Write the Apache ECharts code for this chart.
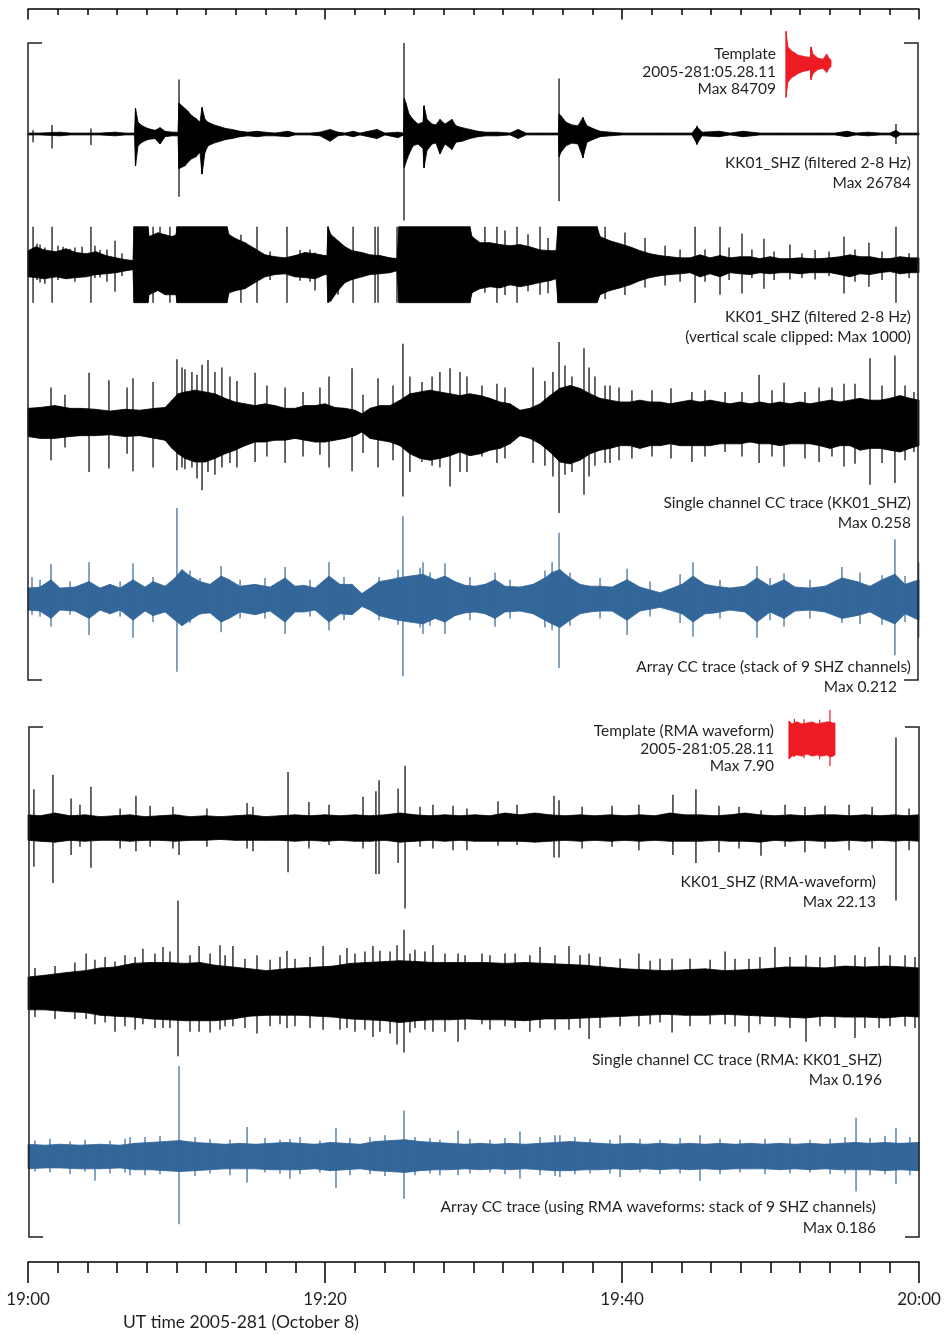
<!DOCTYPE html>
<html><head><meta charset="utf-8">
<script src="https://cdn.jsdelivr.net/npm/echarts@6/dist/echarts.min.js"></script>
<style>html,body{margin:0;padding:0;background:#fff}#c{width:944px;height:1335px}</style>
</head><body><div id="c"></div>
<script>
// ---- time axis (minutes after 19:00) ----
const tickLabels = ['19:00', '19:20', '19:40', '20:00'];
const axisTitle = 'UT time 2005-281 (October 8)';

// ---- text labels ----
const template1Text = ['Template', '2005-281:05.28.11', 'Max 84709'];
const trace1Text = ['KK01_SHZ (filtered 2-8 Hz)', 'Max 26784'];
const trace2Text = ['KK01_SHZ (filtered 2-8 Hz)', '(vertical scale clipped: Max 1000)'];
const trace3Text = ['Single channel CC trace (KK01_SHZ)', 'Max 0.258'];
const trace4Text = ['Array CC trace (stack of 9 SHZ channels)', 'Max 0.212'];
const template2Text = ['Template (RMA waveform)', '2005-281:05.28.11', 'Max 7.90'];
const trace5Text = ['KK01_SHZ (RMA-waveform)', 'Max 22.13'];
const trace6Text = ['Single channel CC trace (RMA: KK01_SHZ)', 'Max 0.196'];
const trace7Text = ['Array CC trace (using RMA waveforms: stack of 9 SHZ channels)', 'Max 0.186'];

// ---- traces: envelope rows [minute, upper %, lower %] (percent of trace max); spikes [minute, upper %, lower %] ----
const trace1Env = [[0.00,1,-1],[0.81,1,-1],[2.15,2,-2],[2.83,1,-1],[3.50,1,-1],[4.85,1,-1],[5.86,2,-2],[6.53,1,-1],[7.17,1,-1],[7.24,28,-35],[7.41,13,-13],[7.68,9,-9],[8.08,6,-6],[8.55,4,-5],[8.89,7,-11],[9.23,3,-3],[9.70,2,-2],[10.10,2,-2],[10.17,34,-38],[10.57,28,-35],[10.77,25,-31],[11.04,20,-27],[11.31,17,-25],[11.58,13,-20],[11.72,29,-44],[11.92,16,-20],[12.12,13,-13],[12.53,10,-10],[12.93,8,-8],[13.33,6,-6],[13.74,5,-5],[14.28,3,-3],[14.81,2,-2],[15.42,3,-3],[15.96,2,-2],[16.63,1,-2],[17.51,3,-3],[17.98,1,-1],[18.99,1,-1],[19.66,2,-2],[20.34,5,-8],[20.88,2,-2],[21.35,1,-1],[21.89,3,-3],[22.36,1,-1],[23.50,5,-5],[24.04,1,-1],[24.92,2,-4],[25.29,1,-1],[25.34,39,-37],[25.45,34,-31],[25.66,22,-22],[25.93,16,-13],[26.26,11,-11],[26.60,13,-16],[26.67,31,-37],[26.87,16,-18],[27.21,11,-11],[27.47,10,-10],[27.74,16,-22],[28.08,11,-11],[28.55,16,-17],[28.82,9,-9],[29.23,7,-8],[29.76,5,-5],[30.30,3,-3],[30.84,2,-2],[31.65,2,-2],[32.46,1,-1],[33.00,5,-5],[33.54,1,-1],[34.48,1,-1],[35.29,1,-1],[35.72,1,-1],[35.77,22,-25],[35.89,20,-20],[36.23,13,-13],[36.63,10,-10],[37.04,9,-11],[37.37,18,-26],[37.64,9,-9],[38.05,6,-6],[38.52,3,-3],[39.19,2,-2],[40.00,1,-1],[41.21,1,-1],[42.56,1,-1],[43.91,1,-1],[44.71,1,-1],[45.05,8,-11],[45.39,2,-2],[46.53,3,-3],[47.27,1,-1],[48.15,3,-3],[49.29,1,-1],[50.64,1,-1],[51.99,1,-1],[53.33,1,-1],[54.34,1,-1],[55.15,3,-3],[55.76,1,-1],[56.57,2,-2],[57.37,1,-1],[58.05,1,-1],[58.45,4,-4],[58.72,1,-1],[60.00,1,-1]];
const trace1Spikes = [[0.34,4,-9],[1.62,10,-16],[4.24,6,-12],[7.24,28,-35],[10.17,60,-69],[11.72,29,-44],[25.32,100,-95],[26.67,31,-37],[35.76,61,-74],[37.37,18,-26],[45.05,9,-12],[58.45,11,-11]];

const trace2Env = [[0.00,37,-32],[0.54,47,-34],[1.08,39,-37],[1.89,34,-32],[2.56,42,-37],[3.23,32,-34],[3.91,29,-32],[4.58,34,-26],[5.25,24,-24],[5.93,18,-21],[6.60,13,-16],[7.07,11,-13],[7.14,100,-100],[8.08,100,-100],[8.15,74,-79],[8.75,84,-68],[9.23,79,-79],[9.70,74,-79],[9.97,79,-79],[10.03,100,-100],[13.40,100,-100],[13.54,79,-74],[14.01,68,-68],[14.61,58,-63],[15.29,42,-47],[15.96,26,-32],[16.63,21,-26],[17.31,18,-24],[17.98,24,-32],[18.65,32,-34],[19.33,29,-37],[20.00,24,-26],[20.13,24,-26],[20.20,100,-100],[20.40,79,-95],[20.88,63,-68],[21.35,47,-47],[21.82,37,-39],[22.49,32,-32],[23.03,26,-26],[23.70,24,-24],[24.38,18,-21],[24.85,16,-16],[24.98,100,-100],[29.76,100,-100],[29.90,74,-74],[30.44,58,-63],[31.11,58,-58],[31.78,53,-61],[32.46,50,-53],[33.13,53,-58],[33.80,47,-53],[34.48,39,-47],[35.15,37,-42],[35.56,37,-37],[35.69,100,-100],[38.32,100,-100],[38.52,74,-79],[39.19,63,-68],[39.87,55,-61],[40.54,47,-53],[41.21,37,-42],[41.89,29,-34],[42.56,24,-29],[43.23,21,-26],[43.91,18,-24],[44.58,18,-21],[45.25,26,-32],[45.93,18,-24],[46.60,24,-32],[47.27,18,-21],[47.95,21,-24],[48.62,21,-26],[49.29,16,-21],[49.97,21,-24],[50.64,16,-21],[51.31,16,-21],[51.99,18,-24],[52.66,16,-21],[53.33,16,-21],[54.01,18,-21],[54.68,21,-26],[55.35,26,-32],[56.03,21,-24],[56.70,21,-26],[57.37,16,-21],[58.05,16,-18],[58.72,21,-24],[59.39,18,-21],[60.00,18,-21]];
const trace2Spikes = [[0.34,100,-100],[0.61,55,-40],[0.81,53,-47],[1.14,45,-50],[1.62,100,-100],[2.02,50,-40],[2.36,47,-26],[2.83,42,-26],[3.16,45,-45],[3.64,47,-26],[4.24,100,-100],[4.51,50,-35],[4.85,39,-34],[5.32,40,-45],[5.86,63,-71],[6.33,30,-30],[8.42,100,-100],[8.89,100,-53],[9.56,100,-100],[14.34,79,-100],[15.42,100,-100],[16.30,35,-40],[17.44,100,-100],[18.32,39,-42],[18.99,40,-45],[19.33,32,-68],[20.88,53,-79],[21.89,100,-100],[23.37,100,-100],[23.57,100,-100],[24.85,100,-100],[30.77,100,-74],[31.58,100,-100],[32.12,90,-80],[32.93,100,-100],[33.67,80,-70],[34.48,100,-79],[35.02,70,-75],[38.86,100,-90],[40.20,85,-80],[41.55,70,-60],[42.90,50,-55],[43.91,40,-45],[44.92,100,-100],[45.59,40,-45],[46.60,100,-79],[47.21,45,-40],[48.08,82,-76],[48.75,40,-35],[49.56,68,-63],[50.24,35,-40],[51.31,53,-39],[52.12,30,-35],[53.00,39,-39],[53.94,35,-30],[54.95,74,-76],[55.69,40,-45],[56.63,58,-58],[57.51,35,-40],[58.45,100,-100],[59.33,30,-35]];

const trace3Env = [[0.00,15,-16],[0.81,16,-18],[1.82,18,-18],[2.83,15,-16],[3.50,15,-15],[4.51,14,-15],[5.52,12,-14],[6.53,14,-16],[7.54,13,-15],[8.55,15,-18],[9.23,16,-20],[9.70,24,-29],[10.10,31,-35],[10.57,33,-40],[11.25,35,-44],[11.92,33,-44],[12.59,31,-40],[13.27,26,-35],[13.94,22,-31],[14.61,20,-26],[15.29,18,-22],[15.96,20,-22],[16.63,18,-20],[17.31,15,-20],[17.98,15,-18],[18.65,18,-20],[19.33,18,-22],[20.00,20,-22],[20.67,16,-20],[21.35,15,-18],[22.02,13,-15],[22.49,9,-11],[23.03,15,-18],[23.70,18,-20],[24.38,18,-22],[25.05,24,-26],[25.72,31,-35],[26.40,33,-40],[27.07,35,-42],[27.74,33,-40],[28.42,31,-37],[29.09,29,-33],[29.76,31,-37],[30.44,29,-35],[31.11,26,-31],[31.78,22,-29],[32.46,20,-24],[33.13,13,-15],[33.80,15,-18],[34.48,20,-24],[35.15,29,-33],[35.82,37,-44],[36.50,40,-46],[37.17,37,-42],[37.85,31,-35],[38.52,26,-31],[39.19,24,-29],[39.87,22,-26],[40.54,22,-26],[41.21,24,-29],[41.89,22,-26],[42.56,22,-26],[43.23,20,-24],[43.91,22,-26],[44.58,24,-26],[45.25,22,-26],[45.93,24,-26],[46.60,22,-24],[47.27,20,-24],[47.95,22,-24],[48.62,20,-22],[49.29,22,-24],[49.97,20,-24],[50.64,22,-26],[51.31,20,-24],[51.99,22,-24],[52.66,20,-24],[53.33,22,-26],[54.01,24,-29],[54.68,22,-26],[55.35,24,-26],[56.03,26,-31],[56.70,24,-29],[57.37,24,-29],[58.05,26,-31],[58.72,29,-33],[59.39,26,-29],[60.00,24,-26]];
const trace3Spikes = [[1.55,38,-42],[2.49,30,-28],[4.11,54,-55],[5.45,46,-51],[6.67,38,-35],[7.07,48,-54],[8.42,44,-50],[10.03,69,-53],[10.37,60,-50],[10.57,58,-52],[11.04,55,-50],[11.38,52,-62],[11.72,63,-75],[12.12,68,-55],[12.59,55,-58],[13.06,60,-50],[13.60,50,-45],[14.07,45,-50],[15.29,54,-44],[16.09,40,-38],[17.31,38,-45],[18.52,33,-38],[19.66,38,-36],[20.27,50,-50],[21.82,59,-54],[22.56,30,-34],[23.57,48,-50],[24.58,40,-42],[25.25,86,-82],[25.72,50,-55],[26.53,44,-44],[27.21,50,-48],[27.74,55,-50],[28.42,59,-71],[29.09,55,-55],[29.56,50,-55],[30.57,40,-38],[31.58,42,-45],[32.12,38,-40],[34.01,60,-45],[34.81,45,-48],[35.35,55,-60],[35.76,88,-100],[36.16,62,-58],[36.63,50,-55],[37.44,81,-80],[37.78,60,-60],[38.18,50,-48],[38.86,40,-45],[39.19,40,-45],[39.80,38,-42],[40.67,35,-40],[42.02,35,-38],[43.30,37,-40],[44.71,33,-44],[45.59,35,-38],[46.94,33,-33],[48.08,33,-38],[49.23,52,-45],[50.10,35,-38],[50.91,43,-49],[52.32,33,-40],[53.27,38,-44],[54.14,38,-38],[54.95,42,-49],[55.69,42,-46],[56.70,70,-69],[57.51,40,-45],[58.38,73,-67],[59.06,40,-42],[59.66,33,-33]];

const trace4Env = [[0.00,13,-11],[0.81,14,-12],[1.55,22,-20],[2.15,13,-11],[3.16,14,-12],[4.11,20,-20],[4.85,13,-11],[5.52,17,-15],[6.20,13,-11],[7.07,22,-22],[7.88,14,-12],[8.42,20,-17],[9.23,15,-13],[9.90,24,-22],[10.37,33,-28],[10.91,26,-22],[11.58,20,-15],[12.26,17,-14],[13.00,26,-24],[13.54,22,-20],[14.28,15,-13],[15.29,17,-16],[16.30,14,-12],[17.31,24,-24],[17.98,15,-13],[18.59,16,-13],[19.33,13,-11],[20.27,26,-24],[21.01,17,-15],[21.82,17,-16],[22.49,7,-7],[23.03,13,-11],[23.64,20,-17],[24.38,22,-20],[24.92,24,-22],[25.72,26,-24],[26.60,28,-26],[27.41,22,-20],[28.08,26,-24],[28.75,20,-17],[29.43,16,-14],[30.10,15,-13],[30.77,17,-15],[31.45,22,-20],[32.12,15,-13],[33.13,14,-12],[34.01,17,-15],[34.81,24,-22],[35.29,30,-26],[35.82,33,-30],[36.50,24,-22],[37.17,17,-15],[37.85,15,-13],[38.52,15,-12],[39.33,14,-12],[40.34,22,-22],[41.21,14,-12],[41.89,11,-10],[42.56,8,-8],[43.23,12,-11],[44.04,17,-15],[44.78,26,-24],[45.59,17,-15],[46.26,15,-14],[47.27,13,-11],[48.28,15,-13],[49.09,24,-24],[49.97,15,-13],[50.91,22,-20],[51.65,14,-12],[52.66,13,-11],[53.67,15,-13],[54.81,24,-20],[55.82,20,-17],[56.70,15,-13],[57.51,22,-20],[58.38,28,-26],[59.06,17,-15],[60.00,22,-22]];
const trace4Spikes = [[0.27,25,-16],[0.81,22,-18],[1.55,39,-29],[2.83,20,-16],[4.11,41,-38],[6.20,20,-18],[7.07,40,-41],[8.42,25,-24],[10.03,100,-78],[10.91,32,-25],[11.58,24,-16],[13.00,37,-35],[14.28,22,-20],[15.96,24,-20],[17.31,36,-37],[18.99,22,-18],[20.27,41,-33],[21.28,25,-22],[23.64,25,-22],[24.92,33,-27],[25.25,91,-83],[26.40,35,-30],[26.60,41,-37],[27.07,30,-28],[28.08,40,-37],[29.76,25,-22],[31.45,30,-29],[32.46,22,-20],[34.81,32,-30],[35.29,41,-33],[35.76,73,-74],[36.50,30,-28],[38.52,24,-20],[40.34,34,-38],[41.89,20,-18],[43.91,28,-25],[44.78,41,-40],[46.60,22,-20],[49.09,37,-41],[49.97,24,-22],[50.91,29,-29],[52.66,22,-20],[54.81,36,-25],[56.03,30,-26],[57.51,27,-27],[58.38,66,-60],[59.06,26,-24],[59.98,41,-41]];

const trace5Env = [[0,15,-13],[0.81,14,-14],[1.82,17,-15],[2.83,14,-13],[3.84,15,-14],[4.85,13,-13],[5.86,14,-13],[6.87,15,-14],[7.88,13,-13],[8.89,14,-13],[9.90,15,-14],[10.91,13,-13],[11.92,14,-13],[12.93,13,-12],[13.94,14,-13],[14.95,15,-13],[15.96,13,-13],[16.97,14,-13],[17.98,15,-14],[18.99,14,-13],[20.00,15,-14],[21.01,14,-13],[22.02,15,-14],[23.03,14,-14],[24.04,15,-13],[25.05,17,-15],[26.06,15,-14],[27.07,14,-13],[28.08,15,-14],[29.09,14,-13],[30.10,15,-14],[31.11,14,-14],[32.12,17,-14],[33.13,15,-14],[34.14,17,-15],[35.15,15,-14],[36.16,14,-13],[37.17,15,-14],[38.18,14,-13],[39.19,15,-14],[40.20,14,-13],[41.21,15,-14],[42.22,14,-13],[43.23,17,-14],[44.24,15,-14],[45.25,15,-14],[46.26,14,-13],[47.27,15,-14],[48.28,17,-14],[49.29,15,-15],[50.30,14,-13],[51.31,15,-14],[52.32,14,-13],[53.33,15,-14],[54.34,15,-14],[55.35,14,-13],[56.36,15,-14],[57.37,14,-13],[58.38,15,-14],[59.06,14,-13],[60,15,-14]];
const trace5Spikes = [[0.40,43,-42],[1.68,59,-60],[2.90,33,-29],[3.50,26,-20],[4.24,46,-43],[6.20,22,-22],[7.27,36,-25],[8.22,25,-20],[9.76,24,-22],[10.17,15,-29],[12.05,22,-20],[14.75,28,-22],[15.15,24,-25],[17.51,62,-48],[18.92,29,-22],[20.27,26,-18],[22.56,35,-22],[23.43,41,-50],[23.64,53,-50],[24.92,44,-38],[25.39,69,-88],[26.40,24,-20],[27.27,26,-22],[28.62,25,-24],[29.56,22,-24],[31.65,30,-19],[32.93,26,-18],[35.42,36,-32],[35.76,31,-32],[37.31,24,-22],[39.33,25,-20],[41.14,26,-24],[43.43,37,-29],[44.98,43,-38],[46.53,25,-26],[47.88,24,-22],[49.36,20,-30],[50.98,26,-20],[52.32,24,-26],[53.67,25,-22],[55.29,26,-24],[56.84,24,-22],[58.45,100,-79],[59.33,22,-24]];

const trace6Env = [[0,16,-20],[1.14,18,-20],[2.63,21,-22],[3.84,23,-23],[4.85,26,-26],[5.86,27,-27],[7.07,31,-28],[8.22,32,-30],[9.36,32,-31],[10.57,31,-32],[11.58,32,-32],[12.59,29,-32],[13.80,27,-30],[14.95,25,-27],[16.09,23,-26],[17.31,25,-26],[18.32,26,-26],[19.46,27,-27],[20.54,28,-28],[21.68,31,-30],[22.83,32,-31],[24.04,33,-32],[25.05,34,-34],[26.20,33,-32],[27.27,32,-31],[28.42,32,-31],[29.56,32,-30],[30.77,32,-31],[32.12,31,-31],[33.47,32,-32],[34.81,31,-30],[36.16,30,-30],[37.51,29,-29],[38.86,27,-28],[40.20,25,-27],[41.55,24,-26],[42.90,23,-25],[44.24,24,-26],[45.59,25,-26],[46.94,23,-25],[48.28,24,-26],[49.63,25,-27],[50.98,27,-28],[52.32,27,-29],[53.67,26,-27],[55.02,28,-28],[56.36,27,-28],[57.71,28,-29],[59.06,27,-27],[60,26,-28]];
const trace6Spikes = [[0.47,26,-28],[1.82,28,-30],[3.16,32,-30],[3.91,42,-30],[4.51,35,-36],[5.19,38,-34],[5.86,33,-44],[6.53,40,-38],[7.21,38,-42],[7.74,47,-36],[8.55,42,-40],[9.09,49,-40],[9.56,44,-40],[10.10,100,-71],[10.91,40,-44],[11.52,50,-44],[12.26,42,-45],[12.93,51,-42],[13.27,40,-38],[13.80,50,-38],[14.61,36,-40],[15.42,40,-46],[16.30,35,-38],[16.97,38,-36],[17.44,45,-40],[17.98,36,-38],[18.99,38,-40],[19.87,50,-42],[21.01,40,-42],[21.48,48,-40],[22.02,42,-44],[22.69,44,-42],[23.23,50,-50],[23.70,45,-44],[24.38,44,-46],[24.85,51,-58],[25.32,68,-67],[25.72,42,-45],[26.06,46,-40],[26.73,44,-42],[27.27,51,-44],[28.08,42,-44],[28.96,42,-55],[29.43,40,-42],[30.57,42,-36],[31.11,40,-42],[32.12,42,-38],[32.80,42,-40],[33.80,40,-44],[34.48,49,-40],[35.49,40,-42],[36.43,50,-42],[37.17,40,-40],[37.78,42,-52],[38.52,38,-40],[39.87,36,-38],[41.14,42,-38],[41.89,34,-36],[42.56,36,-34],[43.37,36,-45],[44.58,36,-38],[45.93,35,-36],[46.94,44,-36],[47.61,36,-38],[48.55,36,-45],[49.29,38,-36],[50.30,49,-38],[51.31,38,-40],[52.39,40,-55],[53.33,38,-38],[54.34,40,-40],[55.69,40,-51],[56.36,38,-40],[57.31,49,-40],[58.05,40,-38],[59.06,40,-38],[59.73,38,-40]];

const trace7Env = [[0,14,-13],[1.14,13,-12],[2.15,14,-12],[3.50,13,-13],[4.85,14,-13],[6.20,13,-12],[7.21,15,-14],[8.22,16,-14],[9.23,17,-15],[10.24,18,-16],[11.25,16,-15],[12.26,15,-14],[13.27,14,-13],[14.28,15,-13],[15.29,14,-13],[16.30,15,-14],[17.31,16,-14],[18.32,15,-14],[19.33,14,-13],[20.34,16,-15],[21.35,15,-14],[22.36,14,-13],[23.37,17,-15],[24.38,18,-16],[25.39,19,-17],[26.40,17,-15],[27.41,16,-14],[28.42,15,-14],[29.43,14,-13],[30.44,15,-14],[31.45,14,-13],[32.46,15,-14],[33.47,14,-13],[34.48,15,-14],[35.49,16,-15],[36.50,17,-15],[37.51,16,-14],[38.52,15,-14],[39.53,14,-13],[40.54,15,-14],[41.55,14,-13],[42.56,15,-14],[43.57,14,-13],[44.58,15,-14],[45.59,14,-13],[46.60,15,-14],[47.61,14,-13],[48.62,15,-13],[49.63,14,-13],[50.64,15,-14],[51.65,14,-13],[52.66,15,-14],[53.67,14,-13],[54.68,15,-14],[55.69,16,-14],[56.70,15,-14],[57.71,16,-15],[58.72,15,-14],[60,16,-15]];
const trace7Spikes = [[0.47,18,-16],[1.48,20,-17],[2.83,17,-19],[3.84,19,-16],[4.51,13,-26],[5.52,18,-18],[6.53,20,-17],[6.87,22,-20],[7.88,22,-20],[8.89,23,-19],[10.17,100,-74],[11.25,22,-21],[12.26,20,-18],[13.60,19,-20],[14.75,33,-28],[15.96,21,-17],[16.97,19,-18],[17.64,20,-24],[18.32,22,-19],[19.66,18,-17],[20.74,32,-34],[21.68,21,-20],[23.03,22,-19],[24.04,24,-21],[25.32,51,-46],[26.06,22,-20],[27.07,21,-18],[27.74,19,-20],[28.96,29,-20],[29.76,20,-18],[31.11,19,-17],[32.12,21,-19],[33.13,28,-24],[34.48,22,-20],[35.49,24,-21],[35.82,24,-22],[36.83,22,-19],[37.85,20,-18],[39.19,19,-18],[39.87,24,-22],[41.21,20,-17],[42.56,19,-19],[43.91,21,-18],[45.25,24,-26],[46.60,20,-19],[47.95,19,-17],[49.63,20,-19],[51.31,21,-18],[52.66,19,-17],[54.01,20,-19],[55.02,22,-18],[55.76,43,-38],[56.70,21,-20],[57.71,23,-19],[58.45,32,-30],[59.39,22,-20]];

// ---- templates: rows [seconds, upper %, lower %] ----
const template1Env = [[0,94,-100],[1.3,48,-55],[3.8,36,-42],[6.0,30,-36],[8.0,24,-30],[11.3,21,-24],[14.7,18,-21],[16.3,18,-18],[16.7,48,-48],[18.0,27,-30],[21.3,15,-18],[24.7,12,-15],[27.1,27,-27],[28.7,15,-15],[30,9,-9]];
const template1Spikes = [[0.1,94,-100],[16.7,48,-48]];
const template2Env = [[0,62,-69],[1.96,52,-59],[5.2,59,-55],[8.5,52,-59],[11.7,55,-52],[15.0,59,-59],[18.3,52,-55],[21.5,55,-59],[24.8,59,-55],[26.7,59,-62],[28.7,55,-59],[30,55,-55]];
const template2Spikes = [[0.2,62,-69],[3.5,70,-62],[9.8,68,-66],[20.0,66,-70],[26.7,100,-93]];

// ---- styling / layout ----
const BLACK = '#000000', BLUE = '#336699', RED = '#ed1c24', TXT = '#231f20';
const FONT = 'Lato, "Open Sans", sans-serif';

const panels = [
  {env: trace1Env, spikes: trace1Spikes, color: BLACK, left: 28, width: 891, top: 43, height: 182, xmax: 60},
  {env: trace2Env, spikes: trace2Spikes, color: BLACK, left: 28, width: 891, top: 226.7, height: 76, xmax: 60},
  {env: trace3Env, spikes: trace3Spikes, color: BLACK, left: 28, width: 891, top: 331, height: 182, xmax: 60},
  {env: trace4Env, spikes: trace4Spikes, color: BLUE, left: 28, width: 891, top: 508, height: 184, xmax: 60},
  {env: trace5Env, spikes: trace5Spikes, color: BLACK, left: 28, width: 891, top: 737.5, height: 182, xmax: 60},
  {env: trace6Env, spikes: trace6Spikes, color: BLACK, left: 28, width: 891, top: 900.6, height: 182, xmax: 60},
  {env: trace7Env, spikes: trace7Spikes, color: BLUE, left: 28, width: 891, top: 1066, height: 182, xmax: 60},
  {env: template1Env, spikes: template1Spikes, color: RED, left: 786, width: 45, top: 29.3, height: 68, xmax: 30},
  {env: template2Env, spikes: template2Spikes, color: RED, left: 789, width: 46, top: 710, height: 58, xmax: 30}
];

const grids = [{left: 28, right: 25, top: 9, height: 1253}];
const xAxes = [
  {gridIndex: 0, type: 'value', min: 0, max: 60, interval: 20, position: 'bottom',
   axisLine: {show: true, onZero: false, lineStyle: {color: '#000', width: 1.5}},
   axisTick: {show: true, length: 21, lineStyle: {color: '#000', width: 1.5}},
   minorTick: {show: true, splitNumber: 10, length: 11, lineStyle: {color: '#000', width: 1.5}},
   axisLabel: {formatter: v => tickLabels[Math.round(v / 20)], fontSize: 17, fontFamily: FONT, color: TXT, margin: 29},
   splitLine: {show: false}, minorSplitLine: {show: false}},
  {gridIndex: 0, type: 'value', min: 0, max: 60, interval: 20, position: 'top',
   axisLine: {show: true, onZero: false, lineStyle: {color: '#000', width: 1.5}},
   axisTick: {show: true, inside: true, length: 10.5, lineStyle: {color: '#000', width: 1.5}},
   minorTick: {show: true, splitNumber: 10, length: 6, lineStyle: {color: '#000', width: 1.5}},
   axisLabel: {show: false}, splitLine: {show: false}, minorSplitLine: {show: false}}
];
const yAxes = [{gridIndex: 0, type: 'value', min: 0, max: 1, show: false}];
const series = [];

panels.forEach((p, k) => {
  const gi = k + 1;
  grids.push({left: p.left, width: p.width, top: p.top, height: p.height});
  xAxes.push({gridIndex: gi, type: 'value', min: 0, max: p.xmax, show: false});
  yAxes.push({gridIndex: gi, type: 'value', min: -100, max: 100, show: false});
  const env = p.env;
  series.push({
    type: 'custom', xAxisIndex: gi + 1, yAxisIndex: gi, data: env,
    encode: {x: 0, y: [1, 2]}, silent: true, animation: false,
    renderItem: function (params, api) {
      const i = params.dataIndex;
      if (i >= env.length - 1) return null;
      const t0 = api.value(0), h0 = api.value(1), l0 = api.value(2);
      const n = env[i + 1];
      const pts = [api.coord([t0, h0]), api.coord([n[0], n[1]]), api.coord([n[0], n[2]]), api.coord([t0, l0])];
      return {type: 'polygon', shape: {points: pts}, style: {fill: p.color, stroke: p.color, lineWidth: 0.8}};
    }
  });
  series.push({
    type: 'custom', xAxisIndex: gi + 1, yAxisIndex: gi, data: p.spikes,
    encode: {x: 0, y: [1, 2]}, silent: true, animation: false,
    renderItem: function (params, api) {
      const a = api.coord([api.value(0), api.value(1)]);
      const b = api.coord([api.value(0), api.value(2)]);
      return {type: 'line', shape: {x1: a[0], y1: a[1], x2: b[0], y2: b[1]}, style: {stroke: p.color, lineWidth: 1.2}};
    }
  });
});

// ---- text & brackets ----
const graphics = [];
function addLines(lines, x, ys, xs) {
  lines.forEach((s, i) => graphics.push({
    type: 'text', x: xs ? xs[i] : x, y: ys[i], z: 10,
    style: {text: s, align: 'right', verticalAlign: 'middle', font: '15.5px ' + FONT, fill: TXT}
  }));
}
addLines(template1Text, 776, [54, 72, 89]);
addLines(trace1Text, 911, [162.5, 182.5]);
addLines(trace2Text, 911, [316.5, 336.5]);
addLines(trace3Text, 911, [503, 523]);
addLines(trace4Text, 911, [667, 687], [911, 897]);
addLines(template2Text, 774, [731, 749, 766]);
addLines(trace5Text, 876, [882, 902]);
addLines(trace6Text, 882, [1060, 1080]);
addLines(trace7Text, 876, [1207, 1228]);
graphics.push({type: 'text', x: 241, y: 1322, style: {text: axisTitle, align: 'center', verticalAlign: 'middle', font: '17.5px ' + FONT, fill: TXT}});

const brackets = [
  [[42, 43], [28, 43], [28, 680], [42, 680]],
  [[904, 43], [918, 43], [918, 680], [904, 680]],
  [[43, 727], [29, 727], [29, 1237], [43, 1237]],
  [[905, 727], [919, 727], [919, 1237], [905, 1237]]
];
brackets.forEach(b => graphics.push({type: 'polyline', shape: {points: b}, style: {stroke: TXT, lineWidth: 1.5, fill: null}, z: 5}));

const chart = echarts.init(document.getElementById('c'), null, {renderer: 'canvas'});
chart.setOption({
  backgroundColor: '#ffffff', animation: false,
  grid: grids, xAxis: xAxes, yAxis: yAxes, series: series, graphic: graphics
});
</script></body></html>
